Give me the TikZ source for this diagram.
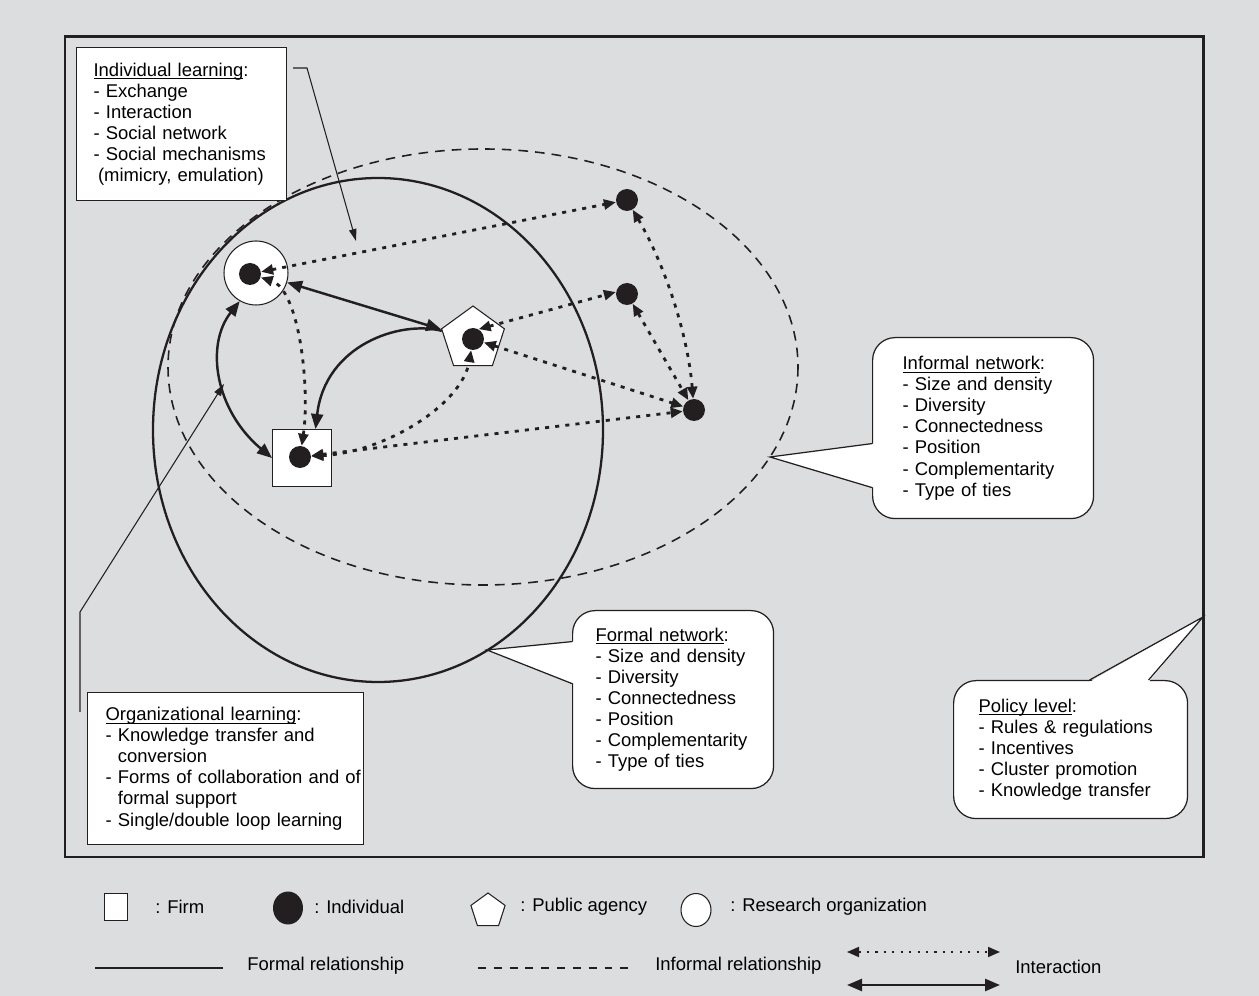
\documentclass[tikz,border=0pt]{standalone}
\usepackage{fontspec}
\setmainfont{Liberation Sans}
\usetikzlibrary{arrows.meta,shapes.geometric}
\definecolor{bggray}{RGB}{220,221,223}
\definecolor{ink}{RGB}{35,31,32}
\newlength{\hdlen}
\newcommand{\headline}[1]{\settowidth{\hdlen}{#1}\rlap{\rule[-1.7pt]{\hdlen}{0.5pt}}#1}

\begin{document}
\begin{tikzpicture}[x=0.02cm,y=-0.02cm,font=\fontsize{10.5}{12}\selectfont,
	>={Triangle[length=0.3cm,width=0.24cm]},
	box/.style={draw=ink,fill=white,line width=0.7pt,anchor=north west,align=left,inner ysep=0pt},
	callout/.style={box,rounded corners=0.45cm},
	actor/.style={draw=ink,fill=white,line width=0.6pt,inner sep=0pt},
	dot/.style={circle,fill=ink,inner sep=0pt,minimum size=0.44cm},
	formal/.style={draw=ink,line width=1.4pt},
	inter/.style={draw=ink,line width=1.6pt,dash pattern=on 2.3pt off 3.5pt,
		{Triangle[length=0.24cm,width=0.2cm]}-{Triangle[length=0.24cm,width=0.2cm]}},
	pointer/.style={draw=ink,line width=0.6pt,-{Triangle[length=0.24cm,width=0.15cm]}},
	lbl/.style={anchor=west,inner sep=0pt}]
	\fill[bggray] (0,0) rectangle (1259,996);
	\useasboundingbox (0,0) rectangle (1259,996);
	\draw[ink,line width=1.7pt] (65,37) rectangle (1203,857);
	% networks
	\draw[ink,line width=1.3pt] (378,430) ellipse [x radius=225,y radius=252];
	\draw[ink,line width=0.9pt,dash pattern=on 5.5pt off 4pt] (483,367) ellipse [x radius=315,y radius=218];
	% learning boxes
	\node[box,minimum width=4.2cm,minimum height=3.06cm,text width=3.52cm,inner xsep=0.34cm] (ilbox) at (76,47)
		{\headline{Individual learning}:\\- Exchange\\- Interaction\\- Social network\\- Social mechanisms\\\hspace*{2.5pt}(mimicry, emulation)};
	\node[box,minimum width=5.52cm,minimum height=3.04cm,text width=4.8cm,inner xsep=0.36cm] (olbox) at (87,692)
		{\headline{Organizational learning}:\\- Knowledge transfer and\\\phantom{- }conversion\\\mbox{- Forms of collaboration and of}\\\phantom{- }formal support\\- Single/double loop learning};
	\coordinate (ilstart) at (293,68);
	\coordinate (ilcorner) at (307,68);
	\coordinate (iltip) at (356,241);
	\draw[pointer] (ilstart) -- (ilcorner) -- (iltip);
	\coordinate (olstart) at (80,712);
	\coordinate (olcorner) at (80,612);
	\coordinate (oltip) at (224,384);
	\draw[pointer] (olstart) -- (olcorner) -- (oltip);
	% callouts
	\node[callout,minimum width=4.02cm,minimum height=3.56cm,text width=3.1cm,inner xsep=0.46cm] (fnbox) at (572,610)
		{\headline{Formal network}:\\- Size and density\\- Diversity\\- Connectedness\\- Position\\- Complementarity\\- Type of ties};
	\coordinate (fntip) at (487,650);
	\fill[white] ([shift={(0.04cm,1.16cm)}]fnbox.west) -- (fntip) -- ([shift={(0.04cm,0.32cm)}]fnbox.west) -- cycle;
	\draw[ink,line width=0.7pt] ([yshift=1.16cm]fnbox.west) -- (fntip) -- ([yshift=0.32cm]fnbox.west);
	\node[callout,minimum width=4.42cm,minimum height=3.62cm,text width=3.22cm,inner xsep=0.6cm] (inbox) at (872,337)
		{\headline{Informal network}:\\- Size and density\\- Diversity\\- Connectedness\\- Position\\- Complementarity\\- Type of ties};
	\coordinate (intip) at (770,457);
	\fill[white] ([shift={(0.04cm,-0.31cm)}]inbox.west) -- (intip) -- ([shift={(0.04cm,-1.19cm)}]inbox.west) -- cycle;
	\draw[ink,line width=0.7pt] ([yshift=-0.31cm]inbox.west) -- (intip) -- ([yshift=-1.19cm]inbox.west);
	\node[callout,minimum width=4.68cm,minimum height=2.76cm,text width=3.68cm,inner xsep=0.5cm] (plbox) at (953,680)
		{\headline{Policy level}:\\- Rules \& regulations\\- Incentives\\- Cluster promotion\\- Knowledge transfer};
	\coordinate (pltip) at (1203,617);
	\fill[white] ([shift={(0.38cm,-0.04cm)}]plbox.north) -- (pltip) -- ([shift={(1.56cm,-0.04cm)}]plbox.north) -- cycle;
	\draw[ink,line width=0.7pt] ([xshift=0.38cm]plbox.north) -- (pltip) -- ([xshift=1.56cm]plbox.north);
	% actors
	\node[actor,circle,minimum size=1.28cm] (rorg) at (256,273) {};
	\node[actor,regular polygon,regular polygon sides=5,minimum size=1.32cm] (pent) at (473,339) {};
	\node[actor,minimum width=1.18cm,minimum height=1.14cm] (firm) at (302,458) {};
	\node[dot] (rdot) at (250,274) {};
	\node[dot] (pdot) at (473,339) {};
	\node[dot] (fdot) at (300,457) {};
	\node[dot] (tdot) at (627,200) {};
	\node[dot] (mdot) at (627,294) {};
	\node[dot] (xdot) at (694,410) {};
	% relationships
	\draw[formal,<->] (rorg) -- (pent);
	\draw[formal,<->] (rorg.240) .. controls (205,345) and (215,410) .. (firm.west);
	\draw[formal,->] (pent) .. controls (400,320) and (325,345) .. (firm.65);
	\draw[inter] (rdot) -- (tdot);
	\draw[inter] (fdot) .. controls (310,390) and (300,290) .. (rdot);
	\draw[inter] (fdot) .. controls (385,452) and (462,405) .. (pdot);
	\draw[inter] (fdot) -- (xdot);
	\draw[inter] (pdot.60) -- (mdot.170);
	\draw[inter] (pdot) -- (xdot);
	\draw[inter] (tdot) .. controls (665,265) and (688,335) .. (xdot);
	\draw[inter] (mdot) -- (xdot);
	% legend
	\node[actor,minimum width=0.46cm,minimum height=0.54cm] (lgfirm) at (116,907) {};
	\node[lbl] (lgfirmtxt) at (155,907) {: Firm};
	\node[ellipse,fill=ink,inner sep=0pt,minimum width=0.6cm,minimum height=0.66cm] (lgdot) at (288,908) {};
	\node[lbl] (lgdottxt) at (314,907) {: Individual};
	\node[actor,regular polygon,regular polygon sides=5,minimum size=0.72cm] (lgpent) at (488,911) {};
	\node[lbl] (lgpenttxt) at (520,907) {: Public agency};
	\node[actor,ellipse,minimum width=0.6cm,minimum height=0.66cm] (lgrorg) at (696,910) {};
	\node[lbl] (lgrorgtxt) at (730,907) {: Research organization};
	\coordinate (lgfa) at (95,968);
	\coordinate (lgfb) at (223,968);
	\draw[ink,line width=0.9pt] (lgfa) -- (lgfb);
	\node[lbl] (lgformal) at (247,966) {Formal relationship};
	\coordinate (lgia) at (478,968);
	\coordinate (lgib) at (633,968);
	\draw[ink,line width=0.9pt,dash pattern=on 4.5pt off 4.5pt] (lgia) -- (lgib);
	\node[lbl] (lginformal) at (655,966) {Informal relationship};
	\coordinate (lgda) at (847,952);
	\coordinate (lgdb) at (1000,952);
	\draw[inter,line width=1pt,dash pattern=on 1.2pt off 3.6pt] (lgda) -- (lgdb);
	\coordinate (lgsa) at (847,985);
	\coordinate (lgsb) at (1000,985);
	\draw[formal,<->] (lgsa) -- (lgsb);
	\node[lbl] (lginter) at (1015,967) {Interaction};
\end{tikzpicture}
\end{document}
